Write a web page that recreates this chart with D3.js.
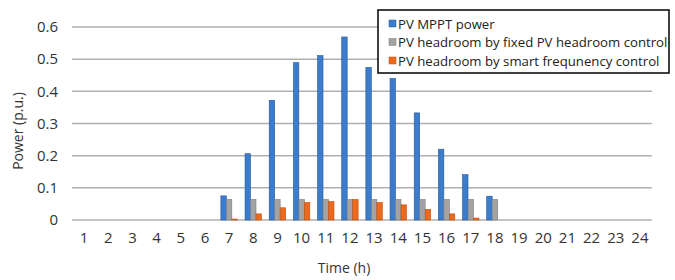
<!DOCTYPE html>
<html><head><meta charset="utf-8">
<script src="https://cdn.jsdelivr.net/npm/d3@7"></script>
<style>body{margin:0;background:#fff}svg{display:block}</style>
</head><body>
<script>
const hours = d3.range(1, 25).map(String);
const seriesNames = ["PV MPPT power", "PV headroom by fixed PV headroom control", "PV headroom by smart frequnency control"];
const mppt =    [0,0,0,0,0,0,0.075,0.206,0.372,0.489,0.511,0.569,0.474,0.44,0.333,0.22,0.141,0.074,0,0,0,0,0,0];
const fixedHr = [0,0,0,0,0,0,0.064,0.064,0.064,0.064,0.064,0.064,0.064,0.064,0.064,0.064,0.064,0.064,0,0,0,0,0,0];
const smartHr = [0,0,0,0,0,0,0.003,0.019,0.038,0.054,0.057,0.064,0.054,0.047,0.033,0.019,0.006,0,0,0,0,0,0,0];
const yTicks = [0,0.1,0.2,0.3,0.4,0.5,0.6];
const colors = ["#3b7dcc","#a3a3a3","#eb6a1e"];
const strokes = ["#25589a","#7d7d7d","#b94d12"];

const W=675,H=280;
const m={l:72,r:23,t:27,b:60};
const svg=d3.select("body").append("svg").attr("width",W).attr("height",H);
const x=d3.scaleBand().domain(hours).range([m.l,W-m.r]).paddingInner(0.32).paddingOuter(0.16);
const xs=d3.scaleBand().domain([0,1,2]).range([0,x.bandwidth()]);
const y=d3.scaleLinear().domain([0,0.6]).range([220,27]);

const font="'Open Sans', 'Noto Sans', sans-serif";
svg.append("g").selectAll("line").data(yTicks).join("line")
 .attr("x1",m.l).attr("x2",W-m.r).attr("y1",d=>y(d)).attr("y2",d=>y(d))
 .attr("stroke","#b0b0b0").attr("stroke-width",1.5);
const ya=svg.append("g").attr("transform",`translate(${m.l},0)`)
 .call(d3.axisLeft(y).tickValues(yTicks).tickFormat(d=>d===0?"0":d3.format(".1f")(d)).tickSize(0).tickPadding(14));
ya.select(".domain").remove();
ya.selectAll("text").attr("font-family",font).attr("font-size",15).attr("fill","#333");
const xa=svg.append("g").attr("transform","translate(0,220)")
 .call(d3.axisBottom(x).tickSize(0).tickPadding(12));
xa.select(".domain").remove();
xa.selectAll("text").attr("font-family",font).attr("font-size",15).attr("fill","#333");

const data=[mppt,fixedHr,smartHr];
data.forEach((arr,si)=>{
 svg.append("g").selectAll("rect").data(arr.map((v,i)=>({h:hours[i],v})).filter(d=>d.v>0)).join("rect")
  .attr("x",d=>x(d.h)+xs(si)).attr("width",xs.bandwidth())
  .attr("y",d=>y(d.v)).attr("height",d=>y(0)-y(d.v))
  .attr("fill",colors[si]).attr("stroke",strokes[si]).attr("stroke-width",0.6);
});

svg.append("text").attr("x",344).attr("y",273).attr("text-anchor","middle")
 .attr("font-family",font).attr("font-size",14).attr("fill","#333").text("Time (h)");
svg.append("text").attr("transform","translate(23,131) rotate(-90)").attr("text-anchor","middle")
 .attr("font-family",font).attr("font-size",14).attr("fill","#333").text("Power (p.u.)");

const lg=svg.append("g");
lg.append("rect").attr("x",378).attr("y",10).attr("width",291).attr("height",63)
 .attr("fill","#fff").attr("stroke","#111").attr("stroke-width",1.6);
seriesNames.forEach((n,i)=>{
 const yy=24+i*18.5;
 lg.append("rect").attr("x",389).attr("y",yy-4).attr("width",7).attr("height",7).attr("fill",colors[i]).attr("stroke",strokes[i]).attr("stroke-width",0.5);
 lg.append("text").attr("x",398).attr("y",yy+4.5).attr("font-family",font).attr("font-size",13.2).attr("fill","#222").text(n);
});
</script>
</body></html>
